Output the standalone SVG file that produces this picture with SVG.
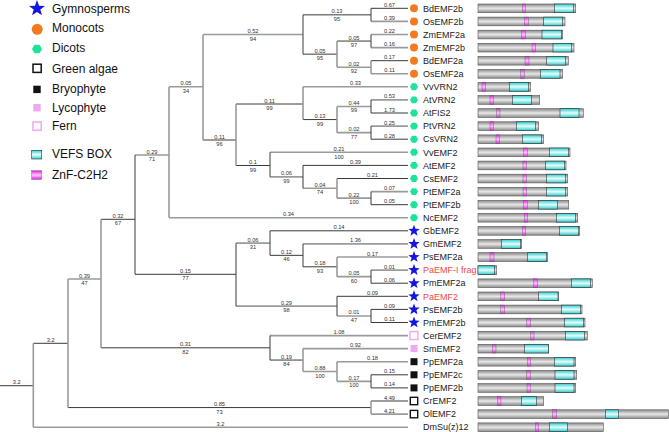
<svg xmlns="http://www.w3.org/2000/svg" xmlns:xlink="http://www.w3.org/1999/xlink" width="669" height="432" viewBox="0 0 669 432">
<style>
.g{stroke:#9a9a9a;stroke-width:1.6;fill:none}
.d{stroke:#3a3a3a;stroke-width:1;fill:none}
.bl{font-family:"Liberation Sans",Arial,sans-serif;font-size:5.7px;fill:#333;text-anchor:middle}
.lf{font-family:"Liberation Sans",Arial,sans-serif;font-size:9px;fill:#222}
.red{fill:#f04848}
.lg{font-family:"Liberation Sans",Arial,sans-serif;font-size:12px;fill:#111}
.bar{fill:url(#gGray);stroke:#555;stroke-width:0.6}
.cy{fill:url(#gCyan);stroke:#333;stroke-width:0.6}
.mg{fill:url(#gMag);stroke:#555;stroke-width:0.4}
.star{fill:#1515e0}
.mono{fill:#f47a20}
.dic{fill:#1ee39a}
</style>
<defs>
<linearGradient id="gGray" x1="0" y1="0" x2="0" y2="1"><stop offset="0" stop-color="#8a8a8a"/><stop offset="0.5" stop-color="#e8e8e8"/><stop offset="1" stop-color="#8a8a8a"/></linearGradient>
<linearGradient id="gCyan" x1="0" y1="0" x2="0" y2="1"><stop offset="0" stop-color="#30cccc"/><stop offset="0.5" stop-color="#e4ffff"/><stop offset="1" stop-color="#30cccc"/></linearGradient>
<linearGradient id="gMag" x1="0" y1="0" x2="0" y2="1"><stop offset="0" stop-color="#e020e0"/><stop offset="0.5" stop-color="#ffc8ff"/><stop offset="1" stop-color="#e020e0"/></linearGradient>
<path id="star" d="M0,-6 L1.47,-2.02 L5.71,-1.85 L2.38,0.77 L3.53,4.85 L0,2.5 L-3.53,4.85 L-2.38,0.77 L-5.71,-1.85 L-1.47,-2.02Z"/>
<polygon id="hex" points="4,0 2,3.46 -2,3.46 -4,0 -2,-3.46 2,-3.46"/>
</defs>

<g id="legend">
<use href="#star" class="star" transform="translate(37,8.5) scale(1.4)"/>
<text class="lg" x="52" y="12.7">Gymnosperms</text>
<circle class="mono" cx="37.2" cy="29.3" r="5.5"/>
<text class="lg" x="52" y="32">Monocots</text>
<use href="#hex" class="dic" transform="translate(37,49) scale(1.25)"/>
<text class="lg" x="52" y="52.3">Dicots</text>
<rect x="33" y="64.2" width="8.2" height="8.2" fill="#fff" stroke="#111" stroke-width="1.5"/>
<text class="lg" x="52" y="72.7">Green algae</text>
<rect x="33.3" y="85.7" width="7.4" height="7.4" fill="#111"/>
<text class="lg" x="52" y="93.3">Bryophyte</text>
<rect x="33.3" y="104" width="7.4" height="7.4" fill="#f0a8f0"/>
<text class="lg" x="52" y="111.7">Lycophyte</text>
<rect x="33" y="122" width="8.2" height="8.2" fill="#fff" stroke="#f0a8f0" stroke-width="1.5"/>
<text class="lg" x="52" y="130">Fern</text>
<rect class="cy" x="31.7" y="150.3" width="10" height="8.7"/>
<text class="lg" x="52" y="157.7">VEFS BOX</text>
<rect class="mg" x="31.7" y="170.7" width="10" height="8.7" stroke="#555" stroke-width="0.6"/>
<text class="lg" x="52" y="179">ZnF-C2H2</text>
</g>

<g id="connectors">
<!-- leaf branches -->
<path class="d" d="M371 8.3H408"/>
<path class="g" d="M371 21.4H408"/>
<path class="g" d="M371 34.5H408"/>
<path class="g" d="M371 47.6H408"/>
<path class="d" d="M371 60.7H408"/>
<path class="g" d="M371 73.8H408"/>
<path class="g" d="M303 86.8H408"/>
<path class="g" d="M371 99.9H408"/>
<path class="d" d="M371 113H408"/>
<path class="g" d="M371 126.1H408"/>
<path class="d" d="M371 139.2H408"/>
<path class="g" d="M270 152.3H408"/>
<path class="d" d="M303 165.4H408"/>
<path class="d" d="M337 178.5H408"/>
<path class="g" d="M371 191.6H408"/>
<path class="d" d="M371 204.7H408"/>
<path class="g" d="M169 217.7H408"/>
<path class="d" d="M270 230.8H408"/>
<path class="g" d="M303 243.9H408"/>
<path class="g" d="M337 257H408"/>
<path class="g" d="M371 270.1H408"/>
<path class="d" d="M371 283.2H408"/>
<path class="d" d="M337 296.3H408"/>
<path class="d" d="M371 309.4H408"/>
<path class="d" d="M371 322.5H408"/>
<path class="g" d="M270 335.6H408"/>
<path class="g" d="M303 348.6H408"/>
<path class="g" d="M337 361.7H408"/>
<path class="d" d="M371 374.8H408"/>
<path class="d" d="M371 387.9H408"/>
<path class="d" d="M371 401H408"/>
<path class="g" d="M371 414.1H408"/>
<path class="g" d="M33.3 427.2H408"/>
<!-- internal horizontals -->
<path class="d" d="M303 14.85H371"/>
<path class="d" d="M337 41.05H371"/>
<path class="g" d="M337 67.25H371"/>
<path class="d" d="M303 54.15H337"/>
<path class="g" d="M203 34.5H303"/>
<path class="g" d="M337 106.45H371"/>
<path class="g" d="M337 132.65H371"/>
<path class="d" d="M303 119.55H337"/>
<path class="d" d="M236 104H303"/>
<path class="g" d="M337 198.15H371"/>
<path class="g" d="M303 188.3H337"/>
<path class="g" d="M270 176.85H303"/>
<path class="d" d="M236 165.5H270"/>
<path class="d" d="M203 140H236"/>
<path class="g" d="M169 86.7H203"/>
<path class="g" d="M135 155H169"/>
<path class="g" d="M337 276.65H371"/>
<path class="d" d="M303 266.8H337"/>
<path class="d" d="M270 255.35H303"/>
<path class="g" d="M236 243.1H270"/>
<path class="g" d="M337 315.95H371"/>
<path class="g" d="M236 306.1H337"/>
<path class="d" d="M135 274.3H236"/>
<path class="d" d="M101 219.3H135"/>
<path class="g" d="M337 381.35H371"/>
<path class="g" d="M303 371.5H337"/>
<path class="d" d="M270 360.05H303"/>
<path class="d" d="M101 347.8H270"/>
<path class="g" d="M68 279H101"/>
<path class="d" d="M68 407.55H371"/>
<path class="d" d="M33.3 343.3H68"/>
<path class="d" d="M0 385.7H33.3"/>
<!-- verticals -->
<path class="d" d="M371 8.3V21.4"/>
<path class="d" d="M371 34.5V47.6"/>
<path class="g" d="M371 60.7V73.8"/>
<path class="g" d="M337 41.05V67.25"/>
<path class="d" d="M303 14.85V54.15"/>
<path class="g" d="M203 34.5V140"/>
<path class="d" d="M371 99.9V113"/>
<path class="d" d="M371 126.1V139.2"/>
<path class="g" d="M337 106.45V132.65"/>
<path class="g" d="M303 86.8V119.55"/>
<path class="d" d="M371 191.6V204.7"/>
<path class="g" d="M337 178.5V198.15"/>
<path class="d" d="M303 165.4V188.3"/>
<path class="d" d="M270 152.3V176.85"/>
<path class="g" d="M236 104V165.5"/>
<path class="g" d="M169 86.7V217.7"/>
<path class="d" d="M371 270.1V283.2"/>
<path class="g" d="M337 257V276.65"/>
<path class="d" d="M303 243.9V266.8"/>
<path class="d" d="M270 230.8V255.35"/>
<path class="d" d="M371 309.4V322.5"/>
<path class="d" d="M337 296.3V315.95"/>
<path class="d" d="M236 243.1V306.1"/>
<path class="d" d="M135 155V274.3"/>
<path class="d" d="M371 374.8V387.9"/>
<path class="g" d="M337 361.7V381.35"/>
<path class="g" d="M303 348.6V371.5"/>
<path class="d" d="M270 335.6V360.05"/>
<path class="g" d="M101 219.3V347.8"/>
<path class="g" d="M371 401V414.1"/>
<path class="g" d="M68 279V407.55"/>
<path class="g" d="M33.3 343.3V427.2"/>
</g>

<g id="branch-labels">
<text class="bl" x="389.5" y="6.8">0.67</text>
<text class="bl" x="389.5" y="19.9">0.39</text>
<text class="bl" x="389.5" y="33">0.22</text>
<text class="bl" x="389.5" y="46.1">0.16</text>
<text class="bl" x="389.5" y="59.2">0.17</text>
<text class="bl" x="389.5" y="72.3">0.11</text>
<text class="bl" x="355.5" y="85.3">0.33</text>
<text class="bl" x="389.5" y="98.4">0.53</text>
<text class="bl" x="389.5" y="111.5">1.73</text>
<text class="bl" x="389.5" y="124.6">0.25</text>
<text class="bl" x="389.5" y="137.7">0.28</text>
<text class="bl" x="339" y="150.8">0.21</text>
<text class="bl" x="339" y="158.6">100</text>
<text class="bl" x="355.5" y="163.9">0.39</text>
<text class="bl" x="372.5" y="177">0.21</text>
<text class="bl" x="389.5" y="190.1">0.07</text>
<text class="bl" x="389.5" y="203.2">0.05</text>
<text class="bl" x="288.5" y="216.2">0.34</text>
<text class="bl" x="339" y="229.3">0.14</text>
<text class="bl" x="355.5" y="242.4">1.36</text>
<text class="bl" x="372.5" y="255.5">0.17</text>
<text class="bl" x="389.5" y="268.6">0.01</text>
<text class="bl" x="389.5" y="281.7">0.06</text>
<text class="bl" x="372.5" y="294.8">0.09</text>
<text class="bl" x="389.5" y="307.9">0.09</text>
<text class="bl" x="389.5" y="321">0.11</text>
<text class="bl" x="339" y="334.1">1.08</text>
<text class="bl" x="355.5" y="347.1">0.92</text>
<text class="bl" x="372.5" y="360.2">0.18</text>
<text class="bl" x="389.5" y="373.3">0.15</text>
<text class="bl" x="389.5" y="386.4">0.14</text>
<text class="bl" x="389.5" y="399.5">4.49</text>
<text class="bl" x="389.5" y="412.6">4.21</text>
<text class="bl" x="220.5" y="425.7">3.2</text>

<text class="bl" x="337" y="13.35">0.13</text><text class="bl" x="337" y="20.85">95</text>
<text class="bl" x="354" y="39.55">0.05</text><text class="bl" x="354" y="47.05">97</text>
<text class="bl" x="354" y="65.75">0.02</text><text class="bl" x="354" y="73.25">92</text>
<text class="bl" x="320" y="52.65">0.05</text><text class="bl" x="320" y="60.15">95</text>
<text class="bl" x="253" y="33">0.52</text><text class="bl" x="253" y="40.5">94</text>
<text class="bl" x="354" y="104.95">0.44</text><text class="bl" x="354" y="112.45">99</text>
<text class="bl" x="354" y="131.15">0.02</text><text class="bl" x="354" y="138.65">77</text>
<text class="bl" x="320" y="118.05">0.13</text><text class="bl" x="320" y="125.55">99</text>
<text class="bl" x="269.5" y="102.5">0.11</text><text class="bl" x="269.5" y="110">99</text>
<text class="bl" x="354" y="196.65">0.22</text><text class="bl" x="354" y="204.15">100</text>
<text class="bl" x="320" y="186.8">0.04</text><text class="bl" x="320" y="194.3">74</text>
<text class="bl" x="286.5" y="175.35">0.06</text><text class="bl" x="286.5" y="182.85">99</text>
<text class="bl" x="253" y="164">0.1</text><text class="bl" x="253" y="171.5">99</text>
<text class="bl" x="219.5" y="138.5">0.11</text><text class="bl" x="219.5" y="146">96</text>
<text class="bl" x="186" y="85.2">0.05</text><text class="bl" x="186" y="92.7">34</text>
<text class="bl" x="152" y="153.5">0.29</text><text class="bl" x="152" y="161">71</text>
<text class="bl" x="354" y="275.15">0.05</text><text class="bl" x="354" y="282.65">60</text>
<text class="bl" x="320" y="265.3">0.18</text><text class="bl" x="320" y="272.8">93</text>
<text class="bl" x="286.5" y="253.85">0.12</text><text class="bl" x="286.5" y="261.35">46</text>
<text class="bl" x="253" y="241.6">0.06</text><text class="bl" x="253" y="249.1">31</text>
<text class="bl" x="354" y="314.45">0.01</text><text class="bl" x="354" y="321.95">47</text>
<text class="bl" x="286.5" y="304.6">0.29</text><text class="bl" x="286.5" y="312.1">98</text>
<text class="bl" x="185.5" y="272.8">0.15</text><text class="bl" x="185.5" y="280.3">77</text>
<text class="bl" x="118" y="217.8">0.32</text><text class="bl" x="118" y="225.3">67</text>
<text class="bl" x="354" y="379.85">0.17</text><text class="bl" x="354" y="387.35">100</text>
<text class="bl" x="320" y="370">0.88</text><text class="bl" x="320" y="377.5">100</text>
<text class="bl" x="286.5" y="358.55">0.19</text><text class="bl" x="286.5" y="366.05">84</text>
<text class="bl" x="185.5" y="346.3">0.31</text><text class="bl" x="185.5" y="353.8">82</text>
<text class="bl" x="84.5" y="277.5">0.39</text><text class="bl" x="84.5" y="285">47</text>
<text class="bl" x="219.5" y="406.05">0.85</text><text class="bl" x="219.5" y="413.55">73</text>
<text class="bl" x="50.7" y="341.8">3.2</text>
<text class="bl" x="16.7" y="384.2">3.2</text>
</g>

<g id="n0"><circle class="mono" cx="414" cy="8.3" r="4"/><text class="lf" x="423" y="11.5">BdEMF2b</text><rect class="bar" x="478" y="4" width="97.7" height="8.7"/><rect class="mg" x="522.3" y="4" width="3" height="8.7"/><rect class="cy" x="554.3" y="4" width="19" height="8.7"/></g>
<g id="n1"><circle class="mono" cx="414" cy="21.4" r="4"/><text class="lf" x="423" y="24.6">OsEMF2b</text><rect class="bar" x="478" y="17.1" width="87" height="8.7"/><rect class="mg" x="524.3" y="17.1" width="4" height="8.7"/><rect class="cy" x="543.7" y="17.1" width="19" height="8.7"/></g>
<g id="n2"><circle class="mono" cx="414" cy="34.5" r="4"/><text class="lf" x="423" y="37.7">ZmEMF2a</text><rect class="bar" x="478" y="30.2" width="84.7" height="8.7"/><rect class="mg" x="521.3" y="30.2" width="4" height="8.7"/><rect class="cy" x="542" y="30.2" width="19.3" height="8.7"/></g>
<g id="n3"><circle class="mono" cx="414" cy="47.6" r="4"/><text class="lf" x="423" y="50.8">ZmEMF2b</text><rect class="bar" x="478" y="43.3" width="96" height="8.7"/><rect class="mg" x="532" y="43.3" width="3.7" height="8.7"/><rect class="cy" x="553" y="43.3" width="18.7" height="8.7"/></g>
<g id="n4"><circle class="mono" cx="414" cy="60.7" r="4"/><text class="lf" x="423" y="63.9">BdEMF2a</text><rect class="bar" x="478" y="56.4" width="90.3" height="8.7"/><rect class="mg" x="525" y="56.4" width="4" height="8.7"/><rect class="cy" x="546.7" y="56.4" width="19" height="8.7"/></g>
<g id="n5"><circle class="mono" cx="414" cy="73.8" r="4"/><text class="lf" x="423" y="77">OsEMF2a</text><rect class="bar" x="478" y="69.5" width="84.7" height="8.7"/><rect class="mg" x="520.7" y="69.5" width="3.6" height="8.7"/><rect class="cy" x="540.7" y="69.5" width="19.3" height="8.7"/></g>
<g id="n6"><use href="#hex" class="dic" x="414" y="86.8"/><text class="lf" x="423" y="90">VvVRN2</text><rect class="bar" x="478" y="82.5" width="52.7" height="8.7"/><rect class="mg" x="482" y="82.5" width="3.7" height="8.7"/><rect class="cy" x="509.3" y="82.5" width="19.4" height="8.7"/></g>
<g id="n7"><use href="#hex" class="dic" x="414" y="99.9"/><text class="lf" x="423" y="103.1">AtVRN2</text><rect class="bar" x="478" y="95.6" width="61.7" height="8.7"/><rect class="mg" x="490" y="95.6" width="3.3" height="8.7"/><rect class="cy" x="512.3" y="95.6" width="19.4" height="8.7"/></g>
<g id="n8"><use href="#hex" class="dic" x="414" y="113"/><text class="lf" x="423" y="116.2">AtFIS2</text><rect class="bar" x="478" y="108.7" width="105.3" height="8.7"/><rect class="mg" x="496.7" y="108.7" width="3.3" height="8.7"/><rect class="cy" x="560" y="108.7" width="19" height="8.7"/></g>
<g id="n9"><use href="#hex" class="dic" x="414" y="126.1"/><text class="lf" x="423" y="129.3">PtVRN2</text><rect class="bar" x="478" y="121.8" width="60.7" height="8.7"/><rect class="mg" x="490" y="121.8" width="3.3" height="8.7"/><rect class="cy" x="516.3" y="121.8" width="19" height="8.7"/></g>
<g id="n10"><use href="#hex" class="dic" x="414" y="139.2"/><text class="lf" x="423" y="142.4">CsVRN2</text><rect class="bar" x="478" y="134.9" width="65.7" height="8.7"/><rect class="mg" x="496" y="134.9" width="3.7" height="8.7"/><rect class="cy" x="522.3" y="134.9" width="19.4" height="8.7"/></g>
<g id="n11"><use href="#hex" class="dic" x="414" y="152.3"/><text class="lf" x="423" y="155.5">VvEMF2</text><rect class="bar" x="478" y="148" width="92" height="8.7"/><rect class="mg" x="523.3" y="148" width="4" height="8.7"/><rect class="cy" x="549.3" y="148" width="19" height="8.7"/></g>
<g id="n12"><use href="#hex" class="dic" x="414" y="165.4"/><text class="lf" x="423" y="168.6">AtEMF2</text><rect class="bar" x="478" y="161.1" width="88" height="8.7"/><rect class="mg" x="523" y="161.1" width="3.7" height="8.7"/><rect class="cy" x="545.7" y="161.1" width="19" height="8.7"/></g>
<g id="n13"><use href="#hex" class="dic" x="414" y="178.5"/><text class="lf" x="423" y="181.7">CsEMF2</text><rect class="bar" x="478" y="174.2" width="89.7" height="8.7"/><rect class="mg" x="523" y="174.2" width="3.7" height="8.7"/><rect class="cy" x="546.3" y="174.2" width="19.4" height="8.7"/></g>
<g id="n14"><use href="#hex" class="dic" x="414" y="191.6"/><text class="lf" x="423" y="194.8">PtEMF2a</text><rect class="bar" x="478" y="187.3" width="89.7" height="8.7"/><rect class="mg" x="523" y="187.3" width="3.7" height="8.7"/><rect class="cy" x="546.3" y="187.3" width="19.4" height="8.7"/></g>
<g id="n15"><use href="#hex" class="dic" x="414" y="204.7"/><text class="lf" x="423" y="207.9">PtEMF2b</text><rect class="bar" x="478" y="200.4" width="90.7" height="8.7"/><rect class="mg" x="523.3" y="200.4" width="4" height="8.7"/><rect class="cy" x="538.3" y="200.4" width="19" height="8.7"/></g>
<g id="n16"><use href="#hex" class="dic" x="414" y="217.7"/><text class="lf" x="423" y="220.9">NcEMF2</text><rect class="bar" x="478" y="213.4" width="99.7" height="8.7"/><rect class="mg" x="524.3" y="213.4" width="3.4" height="8.7"/><rect class="cy" x="556.3" y="213.4" width="19.4" height="8.7"/></g>
<g id="n17"><use href="#star" class="star" x="414" y="230.8"/><text class="lf" x="423" y="234">GbEMF2</text><rect class="bar" x="478" y="226.5" width="101.7" height="8.7"/><rect class="mg" x="522.3" y="226.5" width="3.4" height="8.7"/><rect class="cy" x="559.3" y="226.5" width="19.4" height="8.7"/></g>
<g id="n18"><use href="#star" class="star" x="414" y="243.9"/><text class="lf" x="423" y="247.1">GmEMF2</text><rect class="bar" x="478" y="239.6" width="43.7" height="8.7"/><rect class="cy" x="501.3" y="239.6" width="19.4" height="8.7"/></g>
<g id="n19"><use href="#star" class="star" x="414" y="257"/><text class="lf" x="423" y="260.2">PsEMF2a</text><rect class="bar" x="478" y="252.7" width="69.7" height="8.7"/><rect class="mg" x="490" y="252.7" width="4" height="8.7"/><rect class="cy" x="527.3" y="252.7" width="19.4" height="8.7"/></g>
<g id="n20"><use href="#star" class="star" x="414" y="270.1"/><text class="lf red" x="423" y="273.3">PaEMF-I frag</text><rect class="bar" x="478" y="265.8" width="18.7" height="8.7"/><rect class="cy" x="478" y="265.8" width="16.7" height="8.7"/></g>
<g id="n21"><use href="#star" class="star" x="414" y="283.2"/><text class="lf" x="423" y="286.4">PmEMF2a</text><rect class="bar" x="478" y="278.9" width="114.3" height="8.7"/><rect class="mg" x="533.7" y="278.9" width="4" height="8.7"/><rect class="cy" x="571.3" y="278.9" width="19.4" height="8.7"/></g>
<g id="n22"><use href="#star" class="star" x="414" y="296.3"/><text class="lf red" x="423" y="299.5">PaEMF2</text><rect class="bar" x="478" y="292" width="80.7" height="8.7"/><rect class="mg" x="500.7" y="292" width="4" height="8.7"/><rect class="cy" x="538.7" y="292" width="19.3" height="8.7"/></g>
<g id="n23"><use href="#star" class="star" x="414" y="309.4"/><text class="lf" x="423" y="312.6">PsEMF2b</text><rect class="bar" x="478" y="305.1" width="104" height="8.7"/><rect class="mg" x="500.7" y="305.1" width="4" height="8.7"/><rect class="cy" x="561.3" y="305.1" width="19.4" height="8.7"/></g>
<g id="n24"><use href="#star" class="star" x="414" y="322.5"/><text class="lf" x="423" y="325.7">PmEMF2b</text><rect class="bar" x="478" y="318.2" width="107" height="8.7"/><rect class="mg" x="526.7" y="318.2" width="4" height="8.7"/><rect class="cy" x="564.3" y="318.2" width="19.4" height="8.7"/></g>
<g id="n25"><rect x="410" y="331.6" width="8" height="8" fill="#fff" stroke="#f0a8f0" stroke-width="1.4"/><text class="lf" x="423" y="338.8">CerEMF2</text><rect class="bar" x="478" y="331.3" width="109.3" height="8.7"/><rect class="mg" x="530.7" y="331.3" width="3.3" height="8.7"/><rect class="cy" x="565.3" y="331.3" width="19" height="8.7"/></g>
<g id="n26"><rect x="410.5" y="345" width="7" height="7" fill="#f0a8f0"/><text class="lf" x="423" y="351.8">SmEMF2</text><rect class="bar" x="478" y="344.3" width="70.7" height="8.7"/><rect class="mg" x="492.3" y="344.3" width="3.7" height="8.7"/><rect class="cy" x="524.3" y="344.3" width="24" height="8.7"/></g>
<g id="n27"><rect x="410.5" y="358.2" width="7" height="7" fill="#111"/><text class="lf" x="423" y="364.9">PpEMF2a</text><rect class="bar" x="478" y="357.4" width="97.7" height="8.7"/><rect class="mg" x="527.3" y="357.4" width="3.4" height="8.7"/><rect class="cy" x="554.3" y="357.4" width="19.7" height="8.7"/></g>
<g id="n28"><rect x="410.5" y="371.3" width="7" height="7" fill="#111"/><text class="lf" x="423" y="378">PpEMF2c</text><rect class="bar" x="478" y="370.5" width="98.7" height="8.7"/><rect class="mg" x="526.7" y="370.5" width="3.6" height="8.7"/><rect class="cy" x="555" y="370.5" width="19" height="8.7"/></g>
<g id="n29"><rect x="410.5" y="384.4" width="7" height="7" fill="#111"/><text class="lf" x="423" y="391.1">PpEMF2b</text><rect class="bar" x="478" y="383.6" width="97.7" height="8.7"/><rect class="mg" x="527" y="383.6" width="3.3" height="8.7"/><rect class="cy" x="555" y="383.6" width="19" height="8.7"/></g>
<g id="n30"><rect x="410.3" y="397.3" width="7.4" height="7.4" fill="#fff" stroke="#111" stroke-width="1.4"/><text class="lf" x="423" y="404.2">CrEMF2</text><rect class="bar" x="478" y="396.7" width="65.7" height="8.7"/><rect class="mg" x="497.3" y="396.7" width="3.7" height="8.7"/><rect class="cy" x="521.3" y="396.7" width="15.4" height="8.7"/></g>
<g id="n31"><rect x="410.3" y="410.4" width="7.4" height="7.4" fill="#fff" stroke="#111" stroke-width="1.4"/><text class="lf" x="423" y="417.3">OlEMF2</text><rect class="bar" x="478" y="409.8" width="190.5" height="8.7"/><rect class="mg" x="552.7" y="409.8" width="4" height="8.7"/><rect class="cy" x="605.3" y="409.8" width="13" height="8.7"/></g>
<g id="n32"><text class="lf" x="423" y="430.4">DmSu(z)12</text><rect class="bar" x="478" y="422.9" width="125.3" height="8.7"/><rect class="mg" x="535.3" y="422.9" width="3.4" height="8.7"/><rect class="cy" x="549.3" y="422.9" width="18" height="8.7"/></g>
</svg>
